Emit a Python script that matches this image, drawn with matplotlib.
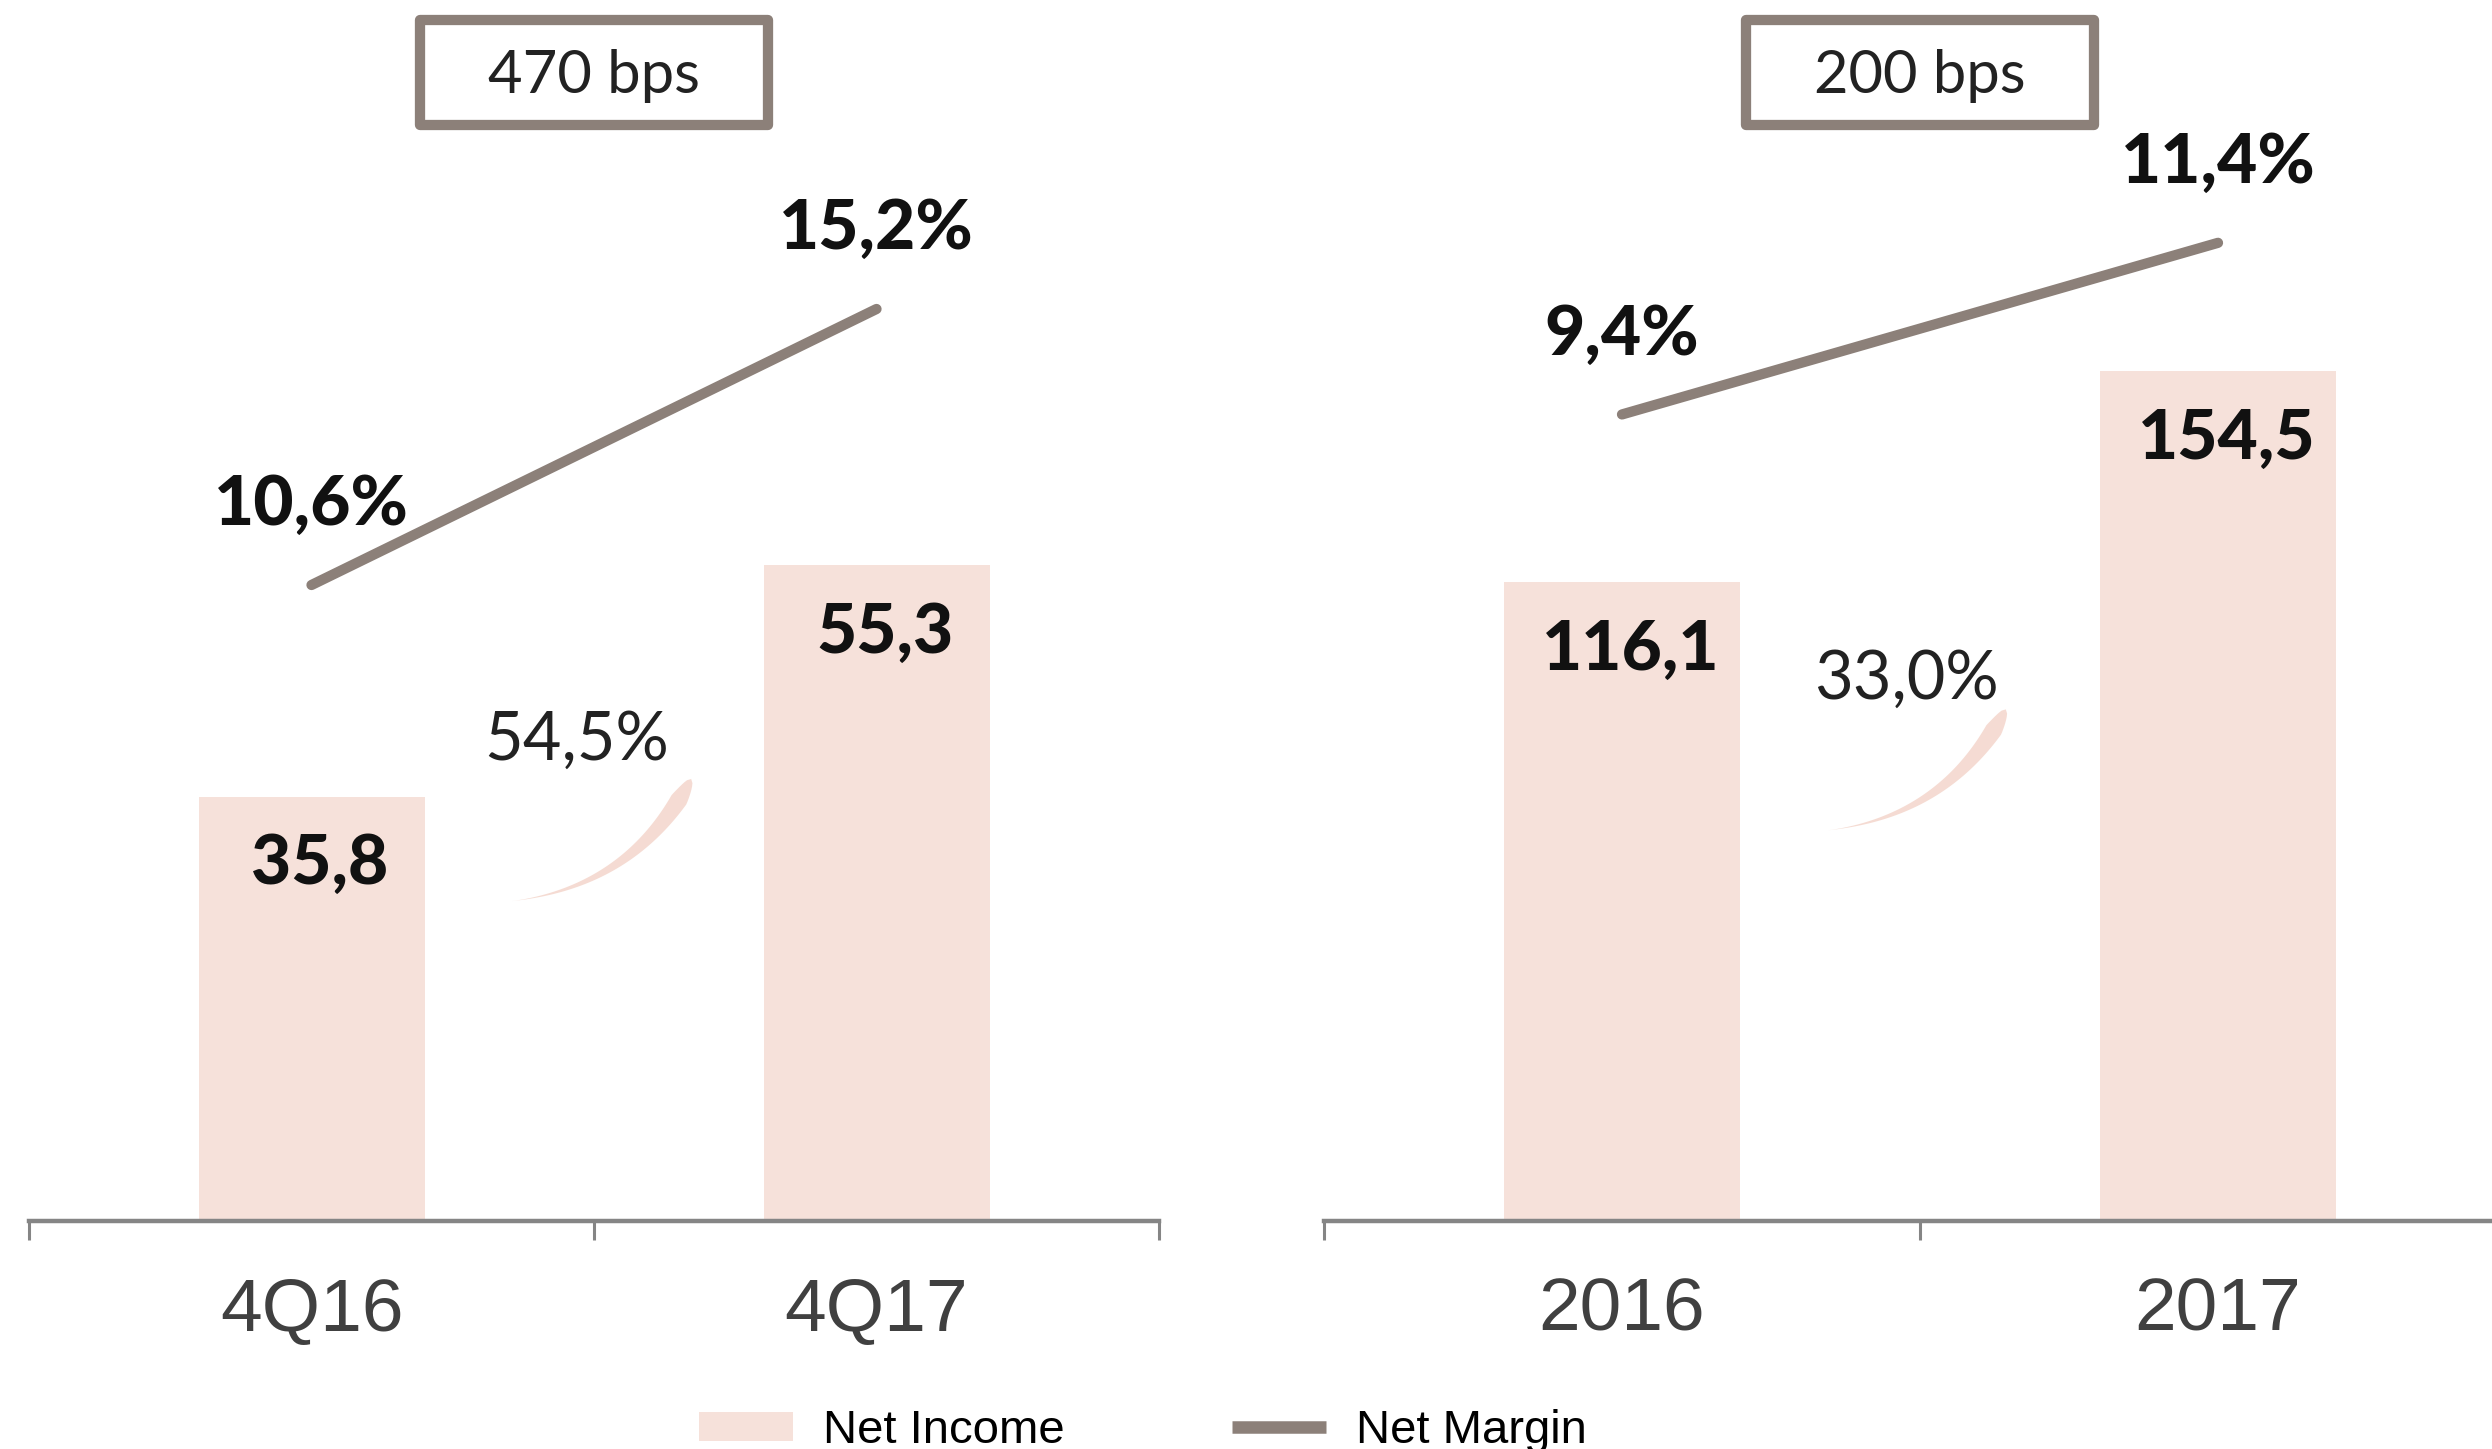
import matplotlib
matplotlib.use('Agg')
import matplotlib.pyplot as plt
import numpy as np
from matplotlib.patches import Rectangle, Polygon, Patch
from matplotlib.lines import Line2D
from matplotlib.transforms import IdentityTransform, blended_transform_factory

# ---------------- data ----------------
quarter_labels = ['4Q16', '4Q17']
quarter_income = [35.8, 55.3]
quarter_margin = [10.6, 15.2]
quarter_growth = '54,5%'
quarter_bps = '470 bps'

year_labels = ['2016', '2017']
year_income = [116.1, 154.5]
year_margin = [9.4, 11.4]
year_growth = '33,0%'
year_bps = '200 bps'

legend_labels = ['Net Income', 'Net Margin']

# ---------------- style ----------------
W, H = 2492, 1449
BAR = '#F6E1DA'
LINE = '#8C8079'
AXC = '#858585'
ARROW = '#F3D3C8'
BOLD_FONT = ['Lato', 'DejaVu Sans']
REG_FONT = ['Lato', 'DejaVu Sans']
ARIAL = ['Liberation Sans', 'DejaVu Sans']


def fmt(v, pct=False):
    return f'{v:.1f}'.replace('.', ',') + ('%' if pct else '')


fig = plt.figure(figsize=(W / 100, H / 100), dpi=100)


def draw_arrow(ax, start, end):
    tr = blended_transform_factory(ax.transData, ax.transAxes)
    p0 = np.array(tr.transform(start))
    p2 = np.array(tr.transform(end))
    c = np.array([p0[0] + 0.68 * (p2[0] - p0[0]), p0[1] + 0.12 * (p2[1] - p0[1])])
    t = np.linspace(0, 1, 80)
    pts = ((1 - t)[:, None] ** 2) * p0 + (2 * (1 - t) * t)[:, None] * c + (t[:, None] ** 2) * p2
    d = np.gradient(pts, axis=0)
    n = np.stack([-d[:, 1], d[:, 0]], axis=1)
    n /= np.linalg.norm(n, axis=1)[:, None]
    w = 10 * t ** 1.3
    tail = 10 * 0.9 ** 1.3
    w = np.where(t > 0.9, tail * np.sqrt(np.clip((1 - t) / 0.1, 0, 1)), w)
    left = pts + n * w[:, None]
    right = pts - n * w[:, None]
    poly = np.vstack([left, right[::-1]])
    fig.add_artist(Polygon(poly, closed=True, facecolor=ARROW, edgecolor='none',
                           alpha=0.8, transform=IdentityTransform()))


def panel(rect, labels, income, margin, ymax_bar, ymax_line, bw,
          growth, gpos, arrow_s, arrow_e, bps):
    ax = fig.add_axes(rect)
    x = np.arange(len(labels))
    ax.bar(x, income, width=bw, color=BAR, zorder=1)
    ax.set_xlim(-0.5, 1.5)
    ax.set_ylim(0, ymax_bar)
    ax.patch.set_visible(False)
    for s in ['left', 'right', 'top']:
        ax.spines[s].set_visible(False)
    ax.spines['bottom'].set_color(AXC)
    ax.spines['bottom'].set_linewidth(3.2)
    ax.set_yticks([])
    ax.set_xticks([-0.5, 0.5, 1.5])
    ax.set_xticklabels([])
    ax.set_xticks(x, minor=True)
    ax.set_xticklabels(labels, minor=True, fontfamily=ARIAL)
    ax.tick_params(axis='x', which='major', length=14, width=2.2, color=AXC, direction='out')
    ax.tick_params(axis='x', which='minor', length=0, pad=40, labelsize=54, labelcolor='#404040')

    ax2 = ax.twinx()
    ax2.set_ylim(0, ymax_line)
    ax2.set_yticks([])
    for s in ax2.spines.values():
        s.set_visible(False)
    ax2.plot(x, margin, color=LINE, lw=7.4, solid_capstyle='round', zorder=3)

    for xi, m in zip(x, margin):
        ax2.annotate(fmt(m, True), xy=(xi, m), xytext=(0, 57), textcoords='offset points',
                     ha='center', va='center', fontsize=50, fontweight='black',
                     fontfamily=BOLD_FONT, color='#111111')
    for xi, v in zip(x, income):
        ax2.annotate(fmt(v), xy=(xi, v), xycoords=ax.transData, xytext=(6, -49),
                     textcoords='offset points', ha='center', va='center', fontsize=50,
                     fontweight='black', fontfamily=BOLD_FONT, color='#111111')

    tr = blended_transform_factory(ax.transData, ax.transAxes)
    ax2.text(gpos[0], gpos[1], growth, transform=tr, ha='center', va='center',
             fontsize=48, fontfamily=REG_FONT, color='#222222')
    draw_arrow(ax, arrow_s, arrow_e)

    # bps box
    cx = ax.transData.transform((0.5, 0))[0]
    bw_px, bh_px = 348, 105
    y0 = H - 125
    fig.add_artist(Rectangle((cx - bw_px / 2, y0), bw_px, bh_px, facecolor='white',
                             edgecolor=LINE, lw=7.4, joinstyle='round',
                             transform=IdentityTransform()))
    fig.text(cx / W, (H - 76) / H, bps, ha='center', va='center', fontsize=43,
             fontfamily=REG_FONT, color='#222222')
    return ax


panel([29 / W, 228 / H, 1130 / W, 1221 / H], quarter_labels, quarter_income, quarter_margin,
      103, 20.35, 0.40, quarter_growth, (0.47, 0.393), (0.355, 0.262), (0.672, 0.362), quarter_bps)
panel([1324 / W, 228 / H, 1192 / W, 1221 / H], year_labels, year_income, year_margin,
      222, 14.23, 0.395, year_growth, (0.478, 0.443), (0.346, 0.320), (0.644, 0.419), year_bps)

handles = [Patch(facecolor=BAR, edgecolor='none', label=legend_labels[0]),
           Line2D([], [], color=LINE, lw=9, solid_capstyle='butt', label=legend_labels[1])]
fig.legend(handles=handles, loc='center', bbox_to_anchor=(1143 / W, 18 / H), ncol=2,
           frameon=False, handlelength=1.98, handleheight=0.58, handletextpad=0.64,
           columnspacing=3.55, borderpad=0, prop={'family': ARIAL, 'size': 34})

fig.savefig('out.png', dpi=100, facecolor='white')
